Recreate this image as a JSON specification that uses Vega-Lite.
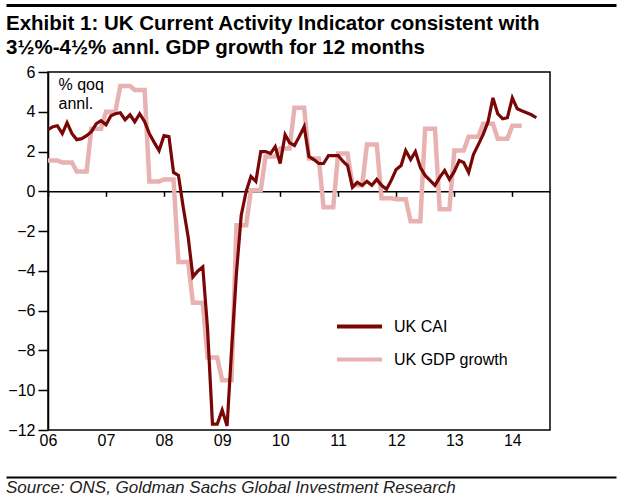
{
  "$schema": "https://vega.github.io/schema/vega-lite/v6.json",
  "padding": {"left": 5, "right": 5, "top": 5, "bottom": 2},
  "columns": 1,
  "align": "none",
  "spacing": 4,
  "config": {"font": "'Liberation Sans', Arial, sans-serif"},
  "concat": [
    {
      "width": 610,
      "height": 3,
      "view": {"stroke": null},
      "data": {"values": []},
      "mark": "rule",
      "encoding": {
        "x": {
          "field": "a",
          "type": "quantitative",
          "scale": {"domain": [0, 1]},
          "axis": {"orient": "top", "position": -42, "domainColor": "black", "domainWidth": 3, "ticks": false, "labels": false, "grid": false, "title": null}
        }
      }
    },
    {
      "width": 502,
      "height": 358,
      "view": {"stroke": "black", "strokeWidth": 1.5},
      "title": {
        "text": ["Exhibit 1: UK Current Activity Indicator consistent with", "3½%-4½% annl. GDP growth for 12 months"],
        "anchor": "start",
        "frame": "bounds",
        "font": "'Liberation Sans', Arial, sans-serif",
        "fontSize": 20.5,
        "fontWeight": "bold",
        "lineHeight": 24,
        "color": "black",
        "offset": 6
      },
      "data": {
        "values": [
          {"m": "2006-01-01", "UK CAI": 3.1, "UK GDP growth": 1.55},
          {"m": "2006-02-01", "UK CAI": 3.25, "UK GDP growth": 1.55},
          {"m": "2006-03-01", "UK CAI": 3.3, "UK GDP growth": 1.55},
          {"m": "2006-04-01", "UK CAI": 2.9, "UK GDP growth": 1.45},
          {"m": "2006-05-01", "UK CAI": 3.45, "UK GDP growth": 1.45},
          {"m": "2006-06-01", "UK CAI": 2.9, "UK GDP growth": 1.45},
          {"m": "2006-07-01", "UK CAI": 2.6, "UK GDP growth": 1.0},
          {"m": "2006-08-01", "UK CAI": 2.65, "UK GDP growth": 1.0},
          {"m": "2006-09-01", "UK CAI": 2.8, "UK GDP growth": 1.0},
          {"m": "2006-10-01", "UK CAI": 3.0, "UK GDP growth": 3.15},
          {"m": "2006-11-01", "UK CAI": 3.4, "UK GDP growth": 3.15},
          {"m": "2006-12-01", "UK CAI": 3.55, "UK GDP growth": 3.15},
          {"m": "2007-01-01", "UK CAI": 3.35, "UK GDP growth": 4.0},
          {"m": "2007-02-01", "UK CAI": 3.8, "UK GDP growth": 4.0},
          {"m": "2007-03-01", "UK CAI": 3.9, "UK GDP growth": 4.0},
          {"m": "2007-04-01", "UK CAI": 3.95, "UK GDP growth": 5.3},
          {"m": "2007-05-01", "UK CAI": 3.6, "UK GDP growth": 5.3},
          {"m": "2007-06-01", "UK CAI": 3.85, "UK GDP growth": 5.3},
          {"m": "2007-07-01", "UK CAI": 3.5, "UK GDP growth": 5.1},
          {"m": "2007-08-01", "UK CAI": 3.9, "UK GDP growth": 5.1},
          {"m": "2007-09-01", "UK CAI": 3.5, "UK GDP growth": 5.1},
          {"m": "2007-10-01", "UK CAI": 2.9, "UK GDP growth": 0.5},
          {"m": "2007-11-01", "UK CAI": 2.45, "UK GDP growth": 0.5},
          {"m": "2007-12-01", "UK CAI": 2.05, "UK GDP growth": 0.5},
          {"m": "2008-01-01", "UK CAI": 2.8, "UK GDP growth": 0.6},
          {"m": "2008-02-01", "UK CAI": 2.75, "UK GDP growth": 0.6},
          {"m": "2008-03-01", "UK CAI": 0.95, "UK GDP growth": 0.6},
          {"m": "2008-04-01", "UK CAI": 0.8, "UK GDP growth": -3.55},
          {"m": "2008-05-01", "UK CAI": -0.8, "UK GDP growth": -3.55},
          {"m": "2008-06-01", "UK CAI": -2.3, "UK GDP growth": -3.55},
          {"m": "2008-07-01", "UK CAI": -4.3, "UK GDP growth": -5.6},
          {"m": "2008-08-01", "UK CAI": -4.0, "UK GDP growth": -5.6},
          {"m": "2008-09-01", "UK CAI": -3.8, "UK GDP growth": -5.6},
          {"m": "2008-10-01", "UK CAI": -6.9, "UK GDP growth": -8.35},
          {"m": "2008-11-01", "UK CAI": -11.7, "UK GDP growth": -8.35},
          {"m": "2008-12-01", "UK CAI": -11.7, "UK GDP growth": -8.35},
          {"m": "2009-01-01", "UK CAI": -11.0, "UK GDP growth": -9.5},
          {"m": "2009-02-01", "UK CAI": -11.8, "UK GDP growth": -9.5},
          {"m": "2009-03-01", "UK CAI": -8.0, "UK GDP growth": -9.5},
          {"m": "2009-04-01", "UK CAI": -4.1, "UK GDP growth": -1.7},
          {"m": "2009-05-01", "UK CAI": -1.2, "UK GDP growth": -1.7},
          {"m": "2009-06-01", "UK CAI": 0.0, "UK GDP growth": -1.7},
          {"m": "2009-07-01", "UK CAI": 0.75, "UK GDP growth": 0.05},
          {"m": "2009-08-01", "UK CAI": 0.5, "UK GDP growth": 0.05},
          {"m": "2009-09-01", "UK CAI": 2.0, "UK GDP growth": 0.05},
          {"m": "2009-10-01", "UK CAI": 2.0, "UK GDP growth": 1.75},
          {"m": "2009-11-01", "UK CAI": 1.9, "UK GDP growth": 1.75},
          {"m": "2009-12-01", "UK CAI": 2.25, "UK GDP growth": 1.75},
          {"m": "2010-01-01", "UK CAI": 1.4, "UK GDP growth": 2.15},
          {"m": "2010-02-01", "UK CAI": 2.85, "UK GDP growth": 2.15},
          {"m": "2010-03-01", "UK CAI": 2.45, "UK GDP growth": 2.15},
          {"m": "2010-04-01", "UK CAI": 2.3, "UK GDP growth": 4.2},
          {"m": "2010-05-01", "UK CAI": 2.75, "UK GDP growth": 4.2},
          {"m": "2010-06-01", "UK CAI": 3.25, "UK GDP growth": 4.2},
          {"m": "2010-07-01", "UK CAI": 1.75, "UK GDP growth": 1.65},
          {"m": "2010-08-01", "UK CAI": 1.6, "UK GDP growth": 1.65},
          {"m": "2010-09-01", "UK CAI": 1.4, "UK GDP growth": 1.65},
          {"m": "2010-10-01", "UK CAI": 1.4, "UK GDP growth": -0.8},
          {"m": "2010-11-01", "UK CAI": 1.8, "UK GDP growth": -0.8},
          {"m": "2010-12-01", "UK CAI": 1.8, "UK GDP growth": -0.8},
          {"m": "2011-01-01", "UK CAI": 1.8, "UK GDP growth": 1.9},
          {"m": "2011-02-01", "UK CAI": 1.5, "UK GDP growth": 1.9},
          {"m": "2011-03-01", "UK CAI": 1.3, "UK GDP growth": 1.9},
          {"m": "2011-04-01", "UK CAI": 0.2, "UK GDP growth": 0.3},
          {"m": "2011-05-01", "UK CAI": 0.45, "UK GDP growth": 0.3},
          {"m": "2011-06-01", "UK CAI": 0.3, "UK GDP growth": 0.3},
          {"m": "2011-07-01", "UK CAI": 0.5, "UK GDP growth": 2.35},
          {"m": "2011-08-01", "UK CAI": 0.3, "UK GDP growth": 2.35},
          {"m": "2011-09-01", "UK CAI": 0.6, "UK GDP growth": 2.35},
          {"m": "2011-10-01", "UK CAI": 0.3, "UK GDP growth": -0.35},
          {"m": "2011-11-01", "UK CAI": 0.1, "UK GDP growth": -0.35},
          {"m": "2011-12-01", "UK CAI": 0.55, "UK GDP growth": -0.35},
          {"m": "2012-01-01", "UK CAI": 1.1, "UK GDP growth": -0.4},
          {"m": "2012-02-01", "UK CAI": 1.3, "UK GDP growth": -0.4},
          {"m": "2012-03-01", "UK CAI": 2.05, "UK GDP growth": -0.4},
          {"m": "2012-04-01", "UK CAI": 1.6, "UK GDP growth": -1.5},
          {"m": "2012-05-01", "UK CAI": 2.0, "UK GDP growth": -1.5},
          {"m": "2012-06-01", "UK CAI": 1.2, "UK GDP growth": -1.5},
          {"m": "2012-07-01", "UK CAI": 0.8, "UK GDP growth": 3.15},
          {"m": "2012-08-01", "UK CAI": 0.55, "UK GDP growth": 3.15},
          {"m": "2012-09-01", "UK CAI": 0.3, "UK GDP growth": 3.15},
          {"m": "2012-10-01", "UK CAI": 0.7, "UK GDP growth": -0.9},
          {"m": "2012-11-01", "UK CAI": 1.05, "UK GDP growth": -0.9},
          {"m": "2012-12-01", "UK CAI": 0.6, "UK GDP growth": -0.9},
          {"m": "2013-01-01", "UK CAI": 1.0, "UK GDP growth": 2.05},
          {"m": "2013-02-01", "UK CAI": 1.55, "UK GDP growth": 2.05},
          {"m": "2013-03-01", "UK CAI": 1.45, "UK GDP growth": 2.05},
          {"m": "2013-04-01", "UK CAI": 0.95, "UK GDP growth": 2.75},
          {"m": "2013-05-01", "UK CAI": 1.85, "UK GDP growth": 2.75},
          {"m": "2013-06-01", "UK CAI": 2.35, "UK GDP growth": 2.75},
          {"m": "2013-07-01", "UK CAI": 2.85, "UK GDP growth": 3.4},
          {"m": "2013-08-01", "UK CAI": 3.5, "UK GDP growth": 3.4},
          {"m": "2013-09-01", "UK CAI": 4.7, "UK GDP growth": 3.4},
          {"m": "2013-10-01", "UK CAI": 3.9, "UK GDP growth": 2.65},
          {"m": "2013-11-01", "UK CAI": 3.65, "UK GDP growth": 2.65},
          {"m": "2013-12-01", "UK CAI": 3.7, "UK GDP growth": 2.65},
          {"m": "2014-01-01", "UK CAI": 4.7, "UK GDP growth": 3.3},
          {"m": "2014-02-01", "UK CAI": 4.15, "UK GDP growth": 3.3},
          {"m": "2014-03-01", "UK CAI": 4.05, "UK GDP growth": 3.3},
          {"m": "2014-04-01", "UK CAI": 3.95, "UK GDP growth": null},
          {"m": "2014-05-01", "UK CAI": 3.85, "UK GDP growth": null},
          {"m": "2014-06-01", "UK CAI": 3.7, "UK GDP growth": null}
        ]
      },
      "transform": [
        {"fold": ["UK CAI", "UK GDP growth"], "as": ["series", "value"]}
      ],
      "encoding": {
        "x": {
          "field": "m",
          "type": "temporal",
          "scale": {"domain": [{"year": 2006, "month": 1, "date": 1}, {"year": 2014, "month": 8, "date": 26}]},
          "axis": {
            "title": null,
            "format": "%y",
            "tickCount": {"interval": "year", "step": 1},
            "grid": false,
            "offset": -238.67,
            "domainColor": "black",
            "domainWidth": 1.5,
            "tickColor": "black",
            "tickWidth": 1.5,
            "tickSize": 5,
            "labelPadding": 236,
            "labelFlush": false,
            "labelFontSize": 16,
            "labelColor": "black",
            "minExtent": 280
          }
        },
        "y": {
          "field": "value",
          "type": "quantitative",
          "scale": {"domain": [-12, 6], "nice": false},
          "axis": {
            "title": ["% qoq", "annl."],
            "titleAngle": 0,
            "titleAlign": "left",
            "titleBaseline": "top",
            "titleX": 10,
            "titleY": 4,
            "titleFontSize": 16,
            "titleFontWeight": "normal",
            "titleLineHeight": 19,
            "titleColor": "black",
            "values": [-12, -10, -8, -6, -4, -2, 0, 2, 4, 6],
            "grid": false,
            "domainColor": "black",
            "domainWidth": 1.5,
            "tickColor": "black",
            "tickWidth": 1.5,
            "tickSize": 10,
            "labelPadding": 3,
            "labelFontSize": 16,
            "labelColor": "black",
            "minExtent": 42
          }
        },
        "color": {
          "field": "series",
          "type": "nominal",
          "scale": {"domain": ["UK CAI", "UK GDP growth"], "range": ["#7a0606", "#e8b2b2"]},
          "legend": {
            "title": null,
            "orient": "none",
            "legendX": 287,
            "legendY": 297,
            "padding": 0,
            "symbolType": "stroke",
            "symbolSize": 2025,
            "symbolStrokeWidth": 4,
            "rowPadding": -14,
            "labelFontSize": 16,
            "labelOffset": 10,
            "labelColor": "black"
          }
        }
      },
      "layer": [
        {
          "transform": [{"filter": "datum.series == 'UK GDP growth'"}],
          "mark": {"type": "line", "strokeWidth": 4.5}
        },
        {
          "transform": [{"filter": "datum.series == 'UK CAI'"}],
          "mark": {"type": "line", "strokeWidth": 3.2}
        }
      ]
    },
    {
      "width": 610,
      "height": 1,
      "view": {"stroke": null},
      "title": {
        "text": "Source: ONS, Goldman Sachs Global Investment Research",
        "orient": "bottom",
        "anchor": "start",
        "frame": "bounds",
        "font": "'Liberation Sans', Arial, sans-serif",
        "fontSize": 17,
        "fontStyle": "italic",
        "fontWeight": "normal",
        "color": "#222222",
        "offset": 2
      },
      "data": {"values": []},
      "mark": "rule",
      "encoding": {
        "x": {
          "field": "a",
          "type": "quantitative",
          "scale": {"domain": [0, 1]},
          "axis": {"orient": "top", "position": -42, "domainColor": "black", "domainWidth": 2, "ticks": false, "labels": false, "grid": false, "title": null}
        }
      }
    }
  ]
}
